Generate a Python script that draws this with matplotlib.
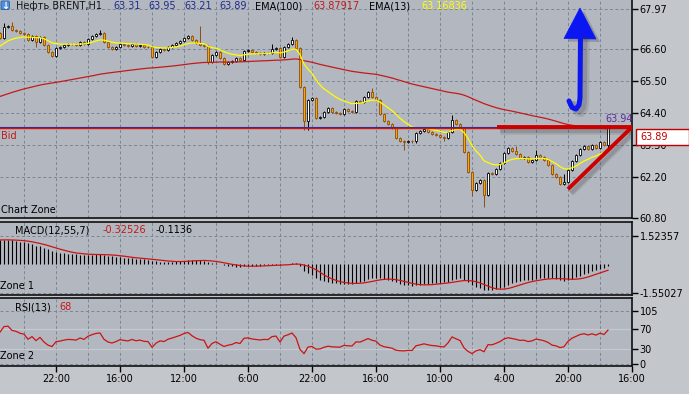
import matplotlib
matplotlib.use("Agg")
import matplotlib.pyplot as plt
import matplotlib.transforms as mtransforms
from matplotlib.patches import Rectangle, Polygon, FancyBboxPatch
import numpy as np

plt.rcParams['font.family'] = ['DejaVu Sans']

# ---------------- data ----------------
symbol = "Нефть BRENT,H1"
ohlc_header = ["63.31", "63.95", "63.21", "63.89"]
ema_long_label, ema_long_value = "EMA(100)", "63.87917"
ema_short_label, ema_short_value = "EMA(13)", "63.16836"
macd_label, macd_signal_text, macd_main_text = "MACD(12,55,7)", "-0.32526", "-0.1136"
rsi_label, rsi_value_text = "RSI(13)", "68"

first_open = 67.15
closes = [
    66.98, 67.35, 67.39, 67.25, 67.22, 67.15, 67.12, 66.91, 67.04, 66.84,
    67.01, 66.73, 66.49, 66.36, 66.63, 66.67, 66.73, 66.77, 66.76, 66.73,
    66.84, 66.77, 66.94, 67.04, 67.12, 67.15, 66.84, 66.67, 66.60, 66.67,
    66.77, 66.73, 66.70, 66.77, 66.70, 66.73, 66.67, 66.66, 66.32, 66.49,
    66.60, 66.56, 66.67, 66.73, 66.80, 66.87, 66.98, 67.04, 66.91, 66.80,
    66.73, 66.70, 66.15, 66.39, 66.49, 66.29, 66.08, 66.15, 66.19, 66.29,
    66.22, 66.53, 66.56, 66.49, 66.46, 66.43, 66.46, 66.45, 66.60, 66.63,
    66.32, 66.67, 66.77, 66.91, 66.63, 65.29, 64.13, 64.85, 64.92, 64.23,
    64.26, 64.44, 64.57, 64.44, 64.40, 64.37, 64.54, 64.47, 64.44, 64.81,
    64.78, 64.95, 65.12, 64.95, 64.85, 64.37, 64.13, 64.02, 63.89, 63.54,
    63.44, 63.41, 63.44, 63.43, 63.72, 63.78, 63.85, 63.75, 63.68, 63.65,
    63.58, 63.54, 63.75, 64.16, 64.02, 63.89, 63.06, 62.38, 61.76, 62.00,
    62.10, 61.59, 62.34, 62.31, 62.48, 62.69, 63.03, 63.20, 63.10, 63.00,
    62.86, 62.89, 62.72, 62.79, 62.96, 62.89, 62.79, 62.62, 62.31, 62.21,
    61.97, 62.03, 62.45, 62.76, 62.96, 63.17, 63.27, 63.17, 63.30, 63.20,
    63.41, 63.31, 63.89,
]
wick_highs = {1: 67.49, 3: 67.52, 25: 67.25, 50: 67.39, 68: 66.77, 73: 67.01,
              93: 65.26, 113: 64.33, 129: 63.27, 134: 63.13, 141: 62.31, 152: 63.95}
wick_lows = {9: 66.67, 13: 66.32, 52: 66.08, 76: 63.82, 77: 63.82, 101: 63.13,
             111: 63.44, 118: 61.55, 121: 61.18, 152: 63.21}
default_wick = 0.04

# indicator starting states (values read at the left edge of the picture)
ema_long_seed, ema_short_seed = 64.93, 66.65
macd_fast_seed, macd_slow_seed = 66.90, 65.55
rsi_seed_gain, rsi_seed_loss = 0.05, 0.015

price_ticks = [67.97, 66.60, 65.50, 64.40, 63.30, 62.20, 60.80]
macd_ticks = [1.52357, -1.55027]
rsi_ticks = [105, 70, 30, 0]
rsi_levels = [70, 30]
time_labels = ["22:00", "16:00", "12:00", "6:00", "22:00", "16:00", "10:00", "4:00", "20:00", "16:00"]
time_label_bars = [14, 30, 46, 62, 78, 94, 110, 126, 142, 158]
grid_bars = [6, 14, 22, 30, 38, 46, 54, 62, 70, 78, 86, 94, 102, 110, 118, 126, 134, 142, 150]

bid_price, ask_price = 63.89, 63.925
last_high_text = "63.94"
trend_h = [(124.25, 63.92), (158, 63.92)]
trend_diag = [(142, 61.79), (158, 63.92)]

# ---------------- computations ----------------
n = len(closes)
idx = np.arange(n)
c = np.array(closes)
o = np.array([first_open] + closes[:-1])
hi = np.array([wick_highs.get(i, max(o[i], c[i]) + default_wick) for i in range(n)])
lo = np.array([wick_lows.get(i, min(o[i], c[i]) - default_wick) for i in range(n)])


def ema(vals, period, seed):
    a = 2.0 / (period + 1)
    e, out = seed, []
    for v in vals:
        e = e + a * (v - e)
        out.append(e)
    return np.array(out)


ema100 = ema(c, 100, ema_long_seed)
ema13 = ema(c, 13, ema_short_seed)
macd = ema(c, 12, macd_fast_seed) - ema(c, 55, macd_slow_seed)
signal = np.array([macd[max(0, i - 6):i + 1].mean() for i in range(n)])

ag, al, prev = rsi_seed_gain, rsi_seed_loss, first_open
rsi = []
for v in c:
    ch = v - prev
    ag = (ag * 12 + max(ch, 0)) / 13
    al = (al * 12 + max(-ch, 0)) / 13
    rsi.append(100 * ag / (ag + al))
    prev = v
rsi = np.array(rsi)

# ---------------- figure ----------------
W, H, DPI = 689, 394, 100
FIG_BG = '#C3C6CB'
AX_BG = '#B3B7BF'
GRID = '#7A8698'
FS = 7

fig = plt.figure(figsize=(W / DPI, H / DPI), dpi=DPI, facecolor=FIG_BG)


def box(top, bottom, left=0, right=632):
    return [left / W, 1 - bottom / H, (right - left) / W, (bottom - top) / H]


ax = fig.add_axes(box(0, 218))
axm = fig.add_axes(box(222, 295))
axr = fig.add_axes(box(298, 366))

for a in (ax, axm, axr):
    a.set_facecolor(AX_BG)
    a.set_xlim(0, 158)
    a.spines['left'].set_visible(False)
    for s in ('right', 'bottom', 'top'):
        a.spines[s].set_color('#101010')
        a.spines[s].set_linewidth(1.2)
    a.yaxis.tick_right()
    a.tick_params(axis='y', direction='out', length=4, width=1, pad=1.5,
                  labelsize=FS, colors='black')
    for g in grid_bars:
        a.axvline(g, color=GRID, lw=0.7, ls=(0, (3, 2.5)), zorder=0.5)
ax.spines['top'].set_visible(False)

# main panel
ax.set_ylim(60.8, 60.8 + 218 / 29.15)
ax.set_yticks(price_ticks, labels=[f"{v:.2f}" for v in price_ticks])
ax.set_xticks([])
for v in price_ticks:
    ax.axhline(v, color=GRID, lw=0.7, ls=(0, (3, 2.5)), zorder=0.5)

bull = c >= o
edge = np.where(bull, '#000000', '#8E4C10')
face = np.where(bull, '#FFFFFF', '#F5A800')
ax.vlines(idx, lo, hi, colors=edge, lw=0.7, zorder=2)
body_h = np.maximum(np.abs(c - o), 0.012)
ax.bar(idx, body_h, bottom=np.minimum(o, c), width=0.64, color=face,
       edgecolor=edge, linewidth=0.6, zorder=3)
ax.plot(idx, ema100, color='#C41A1A', lw=0.9, zorder=4)
ax.plot(idx, ema13, color='#FFFF00', lw=0.9, zorder=4)

ax.axhline(ask_price, color='#2B2A9C', lw=0.8, zorder=4)
ax.axhline(bid_price, color='#CC1414', lw=1.0, zorder=4)

for dx, dy, alpha, lw in ((3, -4, 0.12, 5.0), (3, -4, 0.18, 3.0)):
    shadow = mtransforms.offset_copy(ax.transData, fig=fig, x=dx, y=dy, units='dots')
    for seg in (trend_h, trend_diag):
        xs, ys = zip(*seg)
        ax.plot(xs, ys, color='#3A3A3A', alpha=alpha, lw=lw, transform=shadow,
                solid_capstyle='butt', zorder=5)
for seg in (trend_h, trend_diag):
    xs, ys = zip(*seg)
    ax.plot(xs, ys, color='#CC0000', lw=2.8, solid_capstyle='butt', zorder=6)

# MACD panel
axm.set_ylim(-1.55027 - 2 / 18.54, 1.52357 + 14 / 18.54)
axm.set_yticks(macd_ticks, labels=["1.52357", "-1.55027"])
axm.set_xticks([])
for v in macd_ticks:
    axm.axhline(v, color=GRID, lw=0.7, ls=(0, (3, 2.5)), zorder=0.5)
axm.vlines(idx, 0, macd, colors='black', lw=0.8, zorder=2)
axm.plot(idx, signal, color='#CC1414', lw=0.9, zorder=3)

# RSI panel
axr.set_ylim(-2 / 0.505, 66 / 0.505)
axr.set_yticks(rsi_ticks, labels=[str(v) for v in rsi_ticks])
for v in (105, 0):
    axr.axhline(v, color=GRID, lw=0.7, ls=(0, (3, 2.5)), zorder=0.5)
for v in rsi_levels:
    axr.axhline(v, color='#C6CAD0', lw=0.9, zorder=0.6)
axr.plot(idx, rsi, color='#CC1414', lw=0.9, zorder=3)
axr.set_xticks(time_label_bars, labels=time_labels)
axr.tick_params(axis='x', direction='out', length=4, width=1, pad=1.5,
                labelsize=FS, colors='black')

# overlay in pixel coordinates for labels / drawn annotations
ov = fig.add_axes([0, 0, 1, 1], zorder=10)
ov.set_xlim(0, W)
ov.set_ylim(H, 0)
ov.axis('off')
ov.patch.set_alpha(0)


def t(x, y, s, color='black', **kw):
    ov.text(x, y, s, color=color, fontsize=FS, va='center', ha='left', **kw)


ov.add_patch(FancyBboxPatch((1, 1), 8.5, 8.5, boxstyle='round,pad=0,rounding_size=1.5',
                            fc='#4F8FDC', ec='#2F5F9F', lw=0.6))
ov.text(5.3, 5.6, '↓', color='white', fontsize=7, fontweight='bold', ha='center', va='center')
t(16, 6, symbol, '#151515')
for x, s in zip([113, 148, 184, 219], ohlc_header):
    t(x, 6, s, '#1F2D8F')
t(255, 6, ema_long_label)
t(313, 6, ema_long_value, '#C41A1A')
t(369, 6, ema_short_label)
t(421, 6, ema_short_value, '#FFFF00')

t(1, 136, "Bid", '#C41A1A')
t(1, 210, "Chart Zone")
t(15, 230, macd_label)
t(103, 230, macd_signal_text, '#C41A1A')
t(156, 230, macd_main_text)
t(0, 286, "Zone 1")
t(15, 307, rsi_label)
t(59, 307, rsi_value_text, '#C41A1A')
t(0, 356, "Zone 2")

t(605, 119, last_high_text, '#5B2D9E')
ov.add_patch(Rectangle((636, 129), 53, 16, fc='white', ec='#C00000', lw=1.0))
t(640, 137.5, "63.89", '#C00000')

# blue arrow (drawn annotation)
shaft = [(580.5, 36), (580, 98), (579, 105), (576, 109), (572, 107.5), (569, 101)]
head = [(580, 8), (564, 38.5), (596, 39)]
sx, sy = zip(*shaft)
for dx, dy, alpha, lw in ((5, 4, 0.12, 6.0), (4, 3, 0.18, 4.2)):
    ov.plot([x + dx for x in sx], [y + dy for y in sy], color='#303040', alpha=alpha, lw=lw,
            solid_capstyle='round', solid_joinstyle='round')
ov.add_patch(Polygon([(x + 4, y + 3) for x, y in head], closed=True, fc='#303040',
                     alpha=0.25, ec='none'))
ov.plot(sx, sy, color='#0B17F2', lw=3.6, solid_capstyle='round', solid_joinstyle='round')
ov.add_patch(Polygon(head, closed=True, fc='#0B17F2', ec='#0B17F2', lw=0.5))

fig.savefig('out.png', dpi=DPI, facecolor=FIG_BG)
